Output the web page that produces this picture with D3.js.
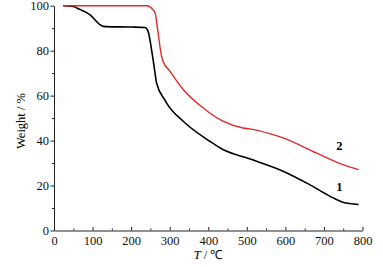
<!DOCTYPE html>
<html>
<head>
<meta charset="utf-8">
<script src="https://cdn.jsdelivr.net/npm/d3@7"></script>
<style>
  body { margin: 0; background: #fff; }
  svg text { font-family: "Liberation Serif", "Times New Roman", serif !important; }
</style>
</head>
<body>
<div id="chart-area"></div>
<script>
// curve 1 (black)
var temps1 = [24, 50, 59, 93, 119, 128, 136, 200, 236, 244, 253, 257, 262, 266, 287, 292, 335, 404, 438, 507, 594, 663, 715, 749, 790];
var weight1 = [100, 99.7, 99, 96, 91.6, 90.8, 90.7, 90.5, 90.3, 88.6, 80.4, 76, 70, 65.6, 58.2, 56.7, 48.6, 39.7, 36, 31.9, 26.4, 20.4, 15.3, 12.6, 11.6];
// curve 2 (red)
var temps2 = [24, 100, 200, 240, 249, 255, 262, 269, 279, 283, 300, 335, 387, 438, 490, 507, 559, 594, 680, 749, 790];
var weight2 = [100, 100, 100, 100, 99.5, 98.5, 96.9, 89, 77.5, 75.2, 71, 62.7, 54.5, 48.6, 45.6, 45.2, 43.1, 41.2, 34.5, 29.3, 27.1];

var xTicks = [0, 100, 200, 300, 400, 500, 600, 700, 800];
var yTicks = [0, 20, 40, 60, 80, 100];

var svg = d3.select("#chart-area").append("svg")
    .attr("width", 383)
    .attr("height", 267)
    .style("font-family", "'Liberation Serif', serif");

var x = d3.scaleLinear().domain([0, 800]).range([54, 362.5]);
var y = d3.scaleLinear().domain([0, 100]).range([230.5, 5.7]);

// minor ticks
svg.append("g")
    .attr("transform", "translate(0,230.5)")
    .call(d3.axisBottom(x).tickValues(d3.range(50, 800, 100)).tickSize(-2).tickFormat(""))
    .call(g => g.select(".domain").remove());
svg.append("g")
    .attr("transform", "translate(54,0)")
    .call(d3.axisLeft(y).tickValues(d3.range(10, 100, 20)).tickSize(2).tickFormat(""))
    .call(g => g.select(".domain").remove());

var xAxis = svg.append("g")
    .attr("transform", "translate(0,230.5)")
    .call(d3.axisBottom(x).tickValues(xTicks).tickSizeInner(-3.5).tickSizeOuter(0).tickPadding(6));
var yAxis = svg.append("g")
    .attr("transform", "translate(54,0)")
    .call(d3.axisLeft(y).tickValues(yTicks).tickSizeInner(3.5).tickSizeOuter(0).tickPadding(1.5));

svg.selectAll("g").attr("font-family", null).attr("font-size", null);
svg.selectAll(".tick text").style("font-size", "12.5px").attr("fill", "#111");
svg.selectAll(".domain, .tick line").attr("stroke", "#222");

var line = d3.line()
    .x(d => x(d[0]))
    .y(d => y(d[1]))
    .curve(d3.curveMonotoneX);

svg.append("path")
    .datum(temps1.map((t, i) => [t, weight1[i]]))
    .attr("d", line)
    .attr("fill", "none")
    .attr("stroke", "#000")
    .attr("stroke-width", 1.6);

svg.append("path")
    .datum(temps2.map((t, i) => [t, weight2[i]]))
    .attr("d", line)
    .attr("fill", "none")
    .attr("stroke", "#e0282c")
    .attr("stroke-width", 1.4);

// curve labels
svg.append("text").attr("x", x(740)).attr("y", y(36)).attr("text-anchor", "middle")
    .style("font-size", "12.5px").attr("font-weight", "bold").text("2");
svg.append("text").attr("x", x(740)).attr("y", y(17.5)).attr("text-anchor", "middle")
    .style("font-size", "12.5px").attr("font-weight", "bold").text("1");

// axis titles
var xt = svg.append("text").attr("x", 208).attr("y", 259).attr("text-anchor", "middle").style("font-size", "12.5px");
xt.append("tspan").attr("font-style", "italic").text("T");
xt.append("tspan").text(" / ℃");

svg.append("text")
    .attr("transform", "translate(25,121) rotate(-90)")
    .attr("text-anchor", "middle")
    .style("font-size", "12.5px")
    .text("Weight / %");
</script>
</body>
</html>
